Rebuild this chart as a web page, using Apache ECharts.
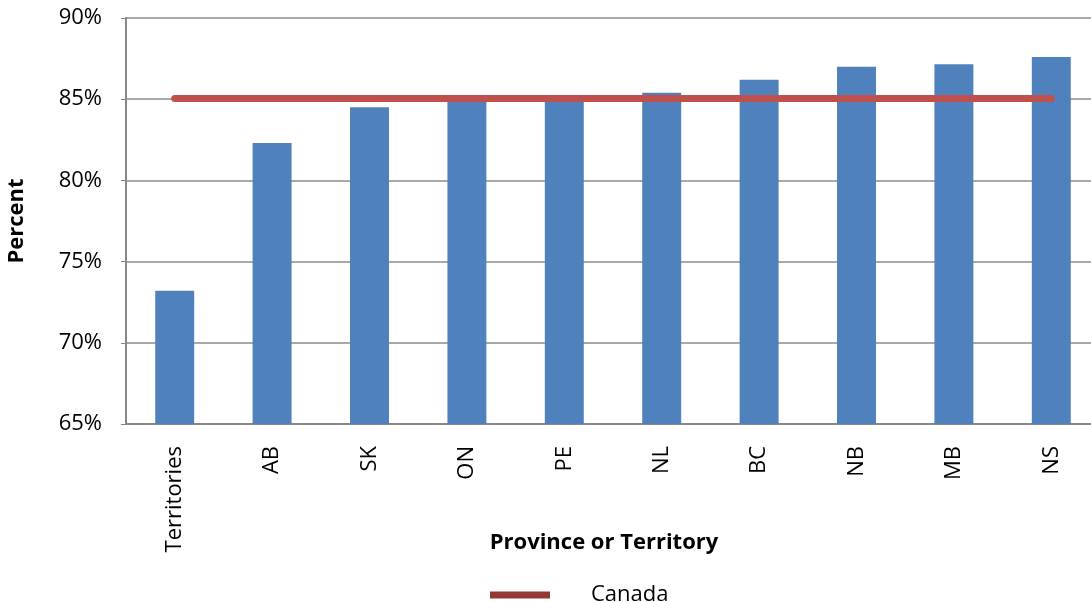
<!DOCTYPE html>
<html>
<head>
<meta charset="utf-8">
<script src="https://cdn.jsdelivr.net/npm/echarts@6/dist/echarts.min.js"></script>
<style>
  html, body { margin: 0; padding: 0; background: #fff; }
  #chart { width: 1091px; height: 602px; }
</style>
</head>
<body>
<div id="chart"></div>
<script>
// 各省数据
const categories = ['Territories', 'AB', 'SK', 'ON', 'PE', 'NL', 'BC', 'NB', 'MB', 'NS']
const provinceValues = [73.2, 82.3, 84.5, 84.85, 84.9, 85.4, 86.2, 87.0, 87.15, 87.6]
const canadaValues = [85.05, 85.05, 85.05, 85.05, 85.05, 85.05, 85.05, 85.05, 85.05, 85.05]
const yTicks = { min: 65, max: 90, interval: 5 }

const font = '"Open Sans", "Noto Sans", sans-serif'
let myChart = echarts.init(document.getElementById('chart'))
let option = {
  animation: false,
  textStyle: { fontFamily: font },
  grid: { left: 126, top: 18, width: 974, height: 406, containLabel: false, outerBoundsMode: 'none' },
  legend: {
    left: 485,
    top: 579,
    itemWidth: 60,
    itemHeight: 7,
    icon: 'rect',
    data: [{ name: 'Canada', itemStyle: { color: '#953735' } }],
    textStyle: { fontFamily: font, fontSize: 22, color: '#000', padding: [0, 0, 0, 36] }
  },
  xAxis: {
    type: 'category',
    data: categories,
    name: 'Province or Territory',
    nameLocation: 'middle',
    nameGap: 108,
    nameMoveOverlap: false,
    nameTextStyle: { fontFamily: font, fontSize: 22, fontWeight: 'bold', color: '#000', padding: [0, 18, 0, 0] },
    axisLine: { lineStyle: { color: '#888', width: 2 } },
    axisTick: { show: false },
    axisLabel: { rotate: 90, margin: 22, fontFamily: font, fontSize: 22, color: '#000', interval: 0 }
  },
  yAxis: {
    type: 'value',
    min: yTicks.min,
    max: yTicks.max,
    interval: yTicks.interval,
    name: 'Percent',
    nameLocation: 'middle',
    nameGap: 98,
    nameMoveOverlap: false,
    nameTextStyle: { fontFamily: font, fontSize: 22, fontWeight: 'bold', color: '#000' },
    axisLine: { show: true, lineStyle: { color: '#888', width: 2 } },
    axisTick: { show: true, length: 5, lineStyle: { color: '#888' } },
    axisLabel: {
      margin: 24,
      fontFamily: font,
      fontSize: 22,
      color: '#000',
      formatter: function (value) {
        return value + '%'
      }
    },
    splitLine: { show: true, lineStyle: { color: '#8c8c8c', width: 1.5 } }
  },
  series: [
    {
      name: 'Province',
      type: 'bar',
      data: provinceValues,
      barWidth: '40%',
      itemStyle: { color: '#4F81BD' },
      z: 2
    },
    {
      name: 'Canada',
      type: 'line',
      data: canadaValues,
      showSymbol: false,
      symbol: 'none',
      lineStyle: { color: '#C0504D', width: 7, cap: 'round' },
      itemStyle: { color: '#C0504D' },
      z: 3
    }
  ]
}
myChart.setOption(option)
</script>
</body>
</html>
